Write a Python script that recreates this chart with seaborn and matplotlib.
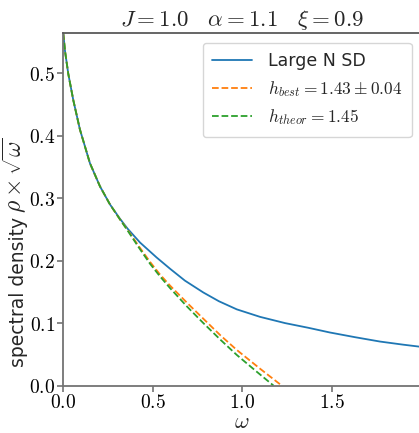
import numpy as np
import pandas as pd
import seaborn as sns
import matplotlib
matplotlib.use("Agg")
import matplotlib.pyplot as plt
from matplotlib.ticker import FuncFormatter

sns.set_style("ticks")
plt.rcParams['font.family'] = ['DejaVu Sans']
plt.rcParams['mathtext.fontset'] = 'cm'

# values
omega_sd = [0.0, 0.01, 0.028, 0.056, 0.093, 0.149, 0.205, 0.261, 0.317, 0.36,
            0.429, 0.522, 0.597, 0.68, 0.783, 0.87, 0.97, 1.1, 1.24, 1.37,
            1.49, 1.63, 1.77, 1.9, 2.0]
rho_sd = [0.564, 0.535, 0.499, 0.457, 0.410, 0.356, 0.319, 0.290, 0.267, 0.251,
          0.229, 0.205, 0.187, 0.168, 0.149, 0.135, 0.122, 0.110, 0.100, 0.0925,
          0.085, 0.0775, 0.0705, 0.0655, 0.062]

omega_best = [0.0, 0.01, 0.028, 0.056, 0.093, 0.149, 0.205, 0.261, 0.317, 0.36,
              0.42, 0.485, 0.54, 0.597, 0.69, 0.783, 0.88, 0.97, 1.10, 1.221]
rho_best = [0.564, 0.535, 0.499, 0.457, 0.410, 0.356, 0.319, 0.290, 0.266, 0.249,
            0.224, 0.198, 0.178, 0.160, 0.133, 0.107, 0.080, 0.057, 0.027, 0.0]

omega_theor = [0.0, 0.01, 0.028, 0.056, 0.093, 0.149, 0.205, 0.261, 0.317, 0.36,
               0.42, 0.485, 0.54, 0.597, 0.69, 0.783, 0.88, 0.97, 1.08, 1.175]
rho_theor = [0.564, 0.535, 0.499, 0.457, 0.410, 0.356, 0.319, 0.290, 0.266, 0.248,
             0.222, 0.195, 0.175, 0.156, 0.127, 0.100, 0.073, 0.049, 0.0225, 0.0]

labels = ["Large N SD", r"$h_{best}=1.43\pm0.04$", r"$h_{theor}=1.45$"]
colors = ["#1f77b4", "#ff7f0e", "#2ca02c"]

fig = plt.figure(figsize=(4.19, 4.33), dpi=100)
ax = fig.add_axes([0.151, 0.1095, 0.854, 0.814])

sd = pd.DataFrame({"w": omega_sd, "r": rho_sd})
best = pd.DataFrame({"w": omega_best, "r": rho_best})
theor = pd.DataFrame({"w": omega_theor, "r": rho_theor})

sns.lineplot(data=sd, x="w", y="r", ax=ax, color=colors[0], lw=1.3, label=labels[0])
sns.lineplot(data=best, x="w", y="r", ax=ax, color=colors[1], lw=1.3, ls="--", label=labels[1])
sns.lineplot(data=theor, x="w", y="r", ax=ax, color=colors[2], lw=1.3, ls="--", label=labels[2])

ax.set_xlim(0, 2.0)
ax.set_ylim(0, 0.5642)
ax.set_xticks([0.0, 0.5, 1.0, 1.5])
ax.set_yticks([0.0, 0.1, 0.2, 0.3, 0.4, 0.5])
fmt = FuncFormatter(lambda v, p: f"${v:.1f}$")
ax.xaxis.set_major_formatter(fmt)
ax.yaxis.set_major_formatter(fmt)
ax.tick_params(labelsize=14, colors="0.45", labelcolor="black", width=1.2, length=4, pad=2)
ax.tick_params(axis="x", pad=1.5)
for s in ax.spines.values():
    s.set_color("0.45")
    s.set_linewidth(1.3)
ax.spines["top"].set_color("0.35")

ax.set_xlabel(r"$\omega$", fontsize=16, labelpad=-0.5)
ax.set_ylabel("")
ax.set_title(r"$J=1.0\quad\alpha=1.1\quad\xi=0.9$", fontsize=16.5, pad=5)

# y label: sans text followed by larger math part
fig.canvas.draw()
t1 = fig.text(24 / 419, 66 / 433, "spectral density", fontsize=13.5, rotation=90,
              rotation_mode="anchor", ha="left", va="baseline")
fig.canvas.draw()
bb = t1.get_window_extent()
t2 = fig.text(22 / 419, (bb.y1 + 4) / 433, r"$\rho\times\sqrt{\omega}$", fontsize=17,
              rotation=90, rotation_mode="anchor", ha="left", va="baseline")

ax.legend(loc="upper right", fontsize=12.5, frameon=True, borderaxespad=0.55,
          handlelength=2.3, handletextpad=0.9, borderpad=0.55)

fig.savefig("out.png", dpi=100)
